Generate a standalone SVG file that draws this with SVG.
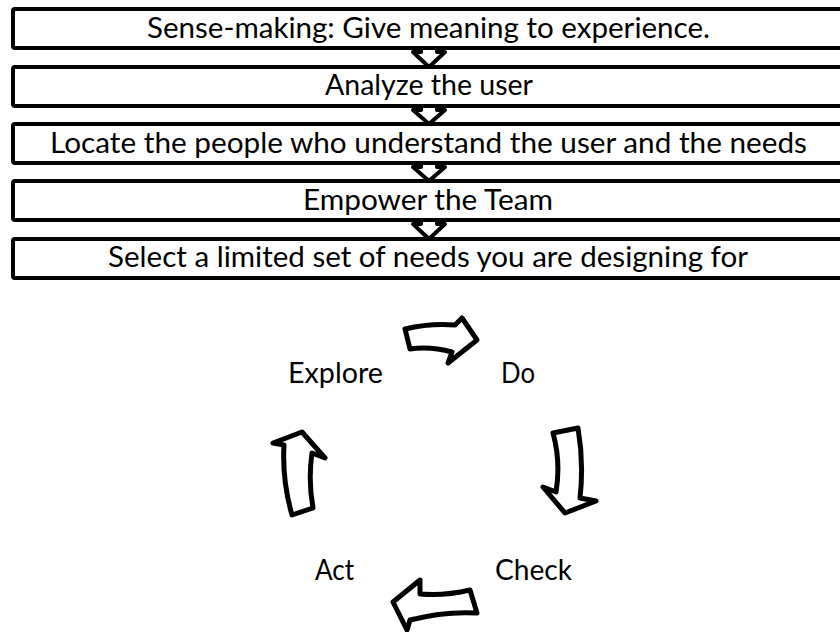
<svg xmlns="http://www.w3.org/2000/svg" width="840" height="632" viewBox="0 0 840 632">
<style>
.box{fill:#fff;stroke:#000;stroke-width:4;}
.t{font-family:Lato,"Liberation Sans",sans-serif;font-size:28px;fill:#000;text-anchor:middle;}
.lbl{font-family:Lato,"Liberation Sans",sans-serif;font-size:28px;fill:#000;}
.ar{fill:#fff;stroke:#000;stroke-width:4;stroke-linejoin:round;}
.ca{fill:#fff;stroke:#000;stroke-width:5;stroke-linejoin:round;}
</style>
<rect width="840" height="632" fill="#fff"/>
<g id="box1"><rect class="box" x="13" y="9" width="840" height="39" rx="2"/><text class="t" x="428.5" y="37.5" textLength="563" lengthAdjust="spacingAndGlyphs">Sense-making: Give meaning to experience.</text></g>
<g id="box2"><rect class="box" x="13" y="67" width="840" height="39" rx="2"/><text class="t" x="429" y="95" textLength="208" lengthAdjust="spacingAndGlyphs">Analyze the user</text></g>
<g id="box3"><rect class="box" x="13" y="124" width="840" height="39" rx="2"/><text class="t" x="428.5" y="152.5" textLength="757" lengthAdjust="spacingAndGlyphs">Locate the people who understand the user and the needs</text></g>
<g id="box4"><rect class="box" x="13" y="181" width="840" height="39" rx="2"/><text class="t" x="428" y="209.5" textLength="250" lengthAdjust="spacingAndGlyphs">Empower the Team</text></g>
<g id="box5"><rect class="box" x="13" y="239" width="840" height="39" rx="2"/><text class="t" x="428" y="267" textLength="640" lengthAdjust="spacingAndGlyphs">Select a limited set of needs you are designing for</text></g>
<g id="explore"><text class="lbl" x="288" y="383" textLength="95" lengthAdjust="spacingAndGlyphs">Explore</text></g>
<g id="do"><text class="lbl" x="501" y="383" textLength="34" lengthAdjust="spacingAndGlyphs">Do</text></g>
<g id="check"><text class="lbl" x="495" y="580" textLength="77" lengthAdjust="spacingAndGlyphs">Check</text></g>
<g id="act"><text class="lbl" x="315" y="580" textLength="39" lengthAdjust="spacingAndGlyphs">Act</text></g>
<g id="connectors">
<polygon class="ar" points="421,48 421,52 413,52 429,67 445,52 437,52 437,48"/>
<polygon class="ar" points="421,106 421,110 413,110 429,124 445,110 437,110 437,106"/>
<polygon class="ar" points="421,163 421,167 413,167 429,181 445,167 437,167 437,163"/>
<polygon class="ar" points="421,220 421,224 413,224 429,239 445,224 437,224 437,220"/>
<path class="ca" d="M 405,329 Q 430,323 455,325 L 462,318 L 477,340 L 448,363 L 452,352 Q 430,346 410,349 Z"/>
<path class="ca" d="M 553,433 L 578,428 Q 584,463 580,498 L 596,501 L 565,513 L 543,487 L 556,492 Q 561,462 553,433 Z"/>
<path class="ca" d="M 302,432 L 325,458 L 312,453 Q 308,480 313,508 L 292,515 Q 282,480 284,445 L 273,443 Z"/>
<path class="ca" d="M 470,590 Q 445,596 420,594 L 420,580 L 393,602 L 407,630 L 410,620 Q 445,611 477,613 Z"/>
</g>
</svg>
